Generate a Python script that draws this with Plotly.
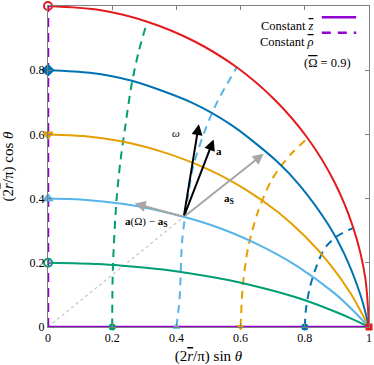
import plotly.graph_objects as go

# ---- data ----
# constant z-bar curves (solid)
z10_x = [0, 0.156, 0.309, 0.454, 0.588, 0.707, 0.809, 0.891, 0.951, 0.988, 1.0]
z10_y = [1.0, 0.988, 0.951, 0.891, 0.809, 0.707, 0.588, 0.454, 0.309, 0.156, 0.0]
z08_x = [0, 0.13, 0.261, 0.448, 0.573, 0.712, 0.786, 0.875, 0.922, 0.975, 1.0]
z08_y = [0.8, 0.792, 0.767, 0.699, 0.628, 0.517, 0.439, 0.316, 0.230, 0.095, 0.0]
z06_x = [0, 0.11, 0.219, 0.349, 0.499, 0.616, 0.716, 0.802, 0.878, 0.944, 1.0]
z06_y = [0.6, 0.595, 0.580, 0.548, 0.491, 0.428, 0.358, 0.281, 0.196, 0.103, 0.0]
z04_x = [0, 0.12, 0.237, 0.344, 0.510, 0.650, 0.777, 0.894, 0.948, 1.0]
z04_y = [0.4, 0.396, 0.383, 0.363, 0.317, 0.259, 0.189, 0.104, 0.054, 0.0]
z02_x = [0, 0.155, 0.231, 0.358, 0.473, 0.583, 0.690, 0.796, 0.899, 0.950, 1.0]
z02_y = [0.2, 0.196, 0.191, 0.179, 0.162, 0.142, 0.116, 0.085, 0.046, 0.024, 0.0]

# constant rho-bar curves (dashed)
r08_x = [0.8, 0.803, 0.815, 0.835, 0.862, 0.898, 0.951]
r08_y = [0.0, 0.05, 0.12, 0.185, 0.245, 0.281, 0.309]
r06_x = [0.6, 0.607, 0.623, 0.654, 0.696, 0.732, 0.763, 0.809]
r06_y = [0.0, 0.130, 0.245, 0.359, 0.457, 0.509, 0.545, 0.588]
r04_x = [0.4, 0.41, 0.418, 0.435, 0.452, 0.493, 0.530, 0.588]
r04_y = [0.0, 0.089, 0.27, 0.40, 0.499, 0.623, 0.707, 0.809]
r02_x = [0.2, 0.202, 0.213, 0.226, 0.240, 0.260, 0.283, 0.309]
r02_y = [0.0, 0.18, 0.39, 0.52, 0.62, 0.753, 0.86, 0.951]

# axis-edge lines (z=0 along bottom, rho=0 along left)
zaxis_x = [0, 1]
zaxis_y = [0, 0]
raxis_x = [0, 0]
raxis_y = [0, 1]

# markers
left_y = [1.0, 0.8, 0.6, 0.4, 0.2]
bottom_x = [0.2, 0.4, 0.6, 0.8, 1.0]

# vectors (base point and tips)
base = (0.423, 0.343)
tip_omega = (0.470, 0.632)
tip_a = (0.516, 0.584)
tip_aS = (0.672, 0.540)
tip_diff = (0.270, 0.385)
dotted_x = [0, 0.423]
dotted_y = [0, 0.343]

tick_vals = [0, 0.2, 0.4, 0.6, 0.8, 1]
tick_text = ["0", "0.2", "0.4", "0.6", "0.8", "1"]

RED = "#E41A1C"
DBLUE = "#0072B2"
ORANGE = "#E69F00"
LBLUE = "#56B4E9"
GREEN = "#009E73"
PURPLE = "#9400D3"
FONT = "Liberation Serif"
OV = "<span style='text-decoration:overline'>{}</span>"

fig = go.Figure()

dash = "8px,6px"
for xs, ys, c in [(r02_x, r02_y, GREEN), (r04_x, r04_y, LBLUE),
                  (r06_x, r06_y, ORANGE), (r08_x, r08_y, DBLUE)]:
    fig.add_trace(go.Scatter(x=xs, y=ys, mode="lines",
                             line=dict(color=c, width=2, dash=dash, shape="spline", smoothing=0.8),
                             showlegend=False, hoverinfo="skip"))

fig.add_trace(go.Scatter(x=dotted_x, y=dotted_y, mode="lines",
                         line=dict(color="#c8c8c8", width=1.3, dash="dot"),
                         showlegend=False, hoverinfo="skip"))

for xs, ys, c in [(z02_x, z02_y, GREEN), (z04_x, z04_y, LBLUE), (z06_x, z06_y, ORANGE),
                  (z08_x, z08_y, DBLUE), (z10_x, z10_y, RED)]:
    fig.add_trace(go.Scatter(x=xs, y=ys, mode="lines",
                             line=dict(color=c, width=2, shape="spline", smoothing=0.8),
                             showlegend=False, hoverinfo="skip", cliponaxis=False))

fig.add_trace(go.Scatter(x=zaxis_x, y=zaxis_y, mode="lines",
                         line=dict(color=PURPLE, width=2.5), showlegend=False,
                         cliponaxis=False, hoverinfo="skip"))
fig.add_trace(go.Scatter(x=raxis_x, y=raxis_y, mode="lines",
                         line=dict(color=PURPLE, width=2.5, dash="9px,6px"), showlegend=False,
                         cliponaxis=False, hoverinfo="skip"))

# markers on left edge
left_sym = ["circle-open", "diamond", "triangle-down", "triangle-up", "circle-open"]
left_col = [RED, DBLUE, ORANGE, LBLUE, GREEN]
fig.add_trace(go.Scatter(x=[0] * len(left_y), y=left_y, mode="markers",
                         marker=dict(symbol=left_sym, color=left_col, size=8,
                                     line=dict(width=2, color=left_col)),
                         showlegend=False, cliponaxis=False, hoverinfo="skip"))
bottom_sym = ["circle", "triangle-up", "triangle-down", "circle", "square"]
bottom_col = [GREEN, LBLUE, ORANGE, DBLUE, RED]
fig.add_trace(go.Scatter(x=bottom_x, y=[0] * len(bottom_x), mode="markers",
                         marker=dict(symbol=bottom_sym, color=bottom_col, size=7),
                         showlegend=False, cliponaxis=False, hoverinfo="skip"))

# arrows
arrows = [(tip_omega, "black"), (tip_a, "black"), (tip_aS, "#a6a6a6"), (tip_diff, "#a6a6a6")]
for tip, col in arrows:
    fig.add_annotation(x=tip[0], y=tip[1], ax=base[0], ay=base[1], xref="x", yref="y",
                       axref="x", ayref="y", showarrow=True, arrowhead=2, arrowsize=1.1,
                       arrowwidth=2, arrowcolor=col, text="")

lab_font = dict(family=FONT, size=11, color="black")
fig.add_annotation(x=0.40, y=0.603, text="<i>ω</i>", showarrow=False, font=lab_font)
fig.add_annotation(x=0.533, y=0.549, text="<b>a</b>", showarrow=False, font=lab_font)
fig.add_annotation(x=0.563, y=0.400, text="<b>a</b><sub><b>S</b></sub>", showarrow=False, font=lab_font)
fig.add_annotation(x=0.306, y=0.327, text="<b>a</b>(Ω) − <b>a</b><sub><b>S</b></sub>",
                   showarrow=False, font=lab_font)

# legend (drawn manually: text then line sample)
leg_font = dict(family=FONT, size=12.5, color="black")
fig.add_annotation(xref="paper", yref="paper", x=0.836, y=0.965, xanchor="right",
                   text="Constant " + OV.format("<i>z</i>"), showarrow=False, font=leg_font)
fig.add_annotation(xref="paper", yref="paper", x=0.836, y=0.917, xanchor="right",
                   text="Constant " + OV.format("<i>ρ</i>"), showarrow=False, font=leg_font)
fig.add_shape(type="line", xref="paper", yref="paper", x0=0.853, x1=0.96, y0=0.965, y1=0.965,
              line=dict(color=PURPLE, width=2.5))
fig.add_shape(type="line", xref="paper", yref="paper", x0=0.853, x1=0.96, y0=0.917, y1=0.917,
              line=dict(color=PURPLE, width=2.5, dash="9px,7px"))
fig.add_annotation(xref="paper", yref="paper", x=0.95, y=0.851, xanchor="right",
                   text="(" + OV.format("Ω") + " = 0.9)", showarrow=False, font=leg_font)

axis_common = dict(range=[0, 1], tickvals=tick_vals, ticktext=tick_text, ticks="inside",
                   ticklen=4, tickcolor="#808080", showline=True, linecolor="#808080",
                   linewidth=1, mirror="ticks", showgrid=False, zeroline=False,
                   automargin=False,
                   tickfont=dict(family=FONT, size=12, color="black"))
fig.update_xaxes(**axis_common,
                 title=dict(text="(2" + OV.format("<i>r</i>") + "/π) sin <i>θ</i>",
                            font=dict(family=FONT, size=15, color="black")))
fig.update_yaxes(**axis_common,
                 title=dict(text="(2" + OV.format("<i>r</i>") + "/π) cos <i>θ</i>",
                            font=dict(family=FONT, size=15, color="black")))

fig.update_layout(width=374, height=365, margin=dict(l=48, r=5, t=6, b=38),
                  plot_bgcolor="white", paper_bgcolor="white", showlegend=False)

fig.write_html("out.html", config={"displayModeBar": False},
               post_script="document.body.style.margin='0';")
